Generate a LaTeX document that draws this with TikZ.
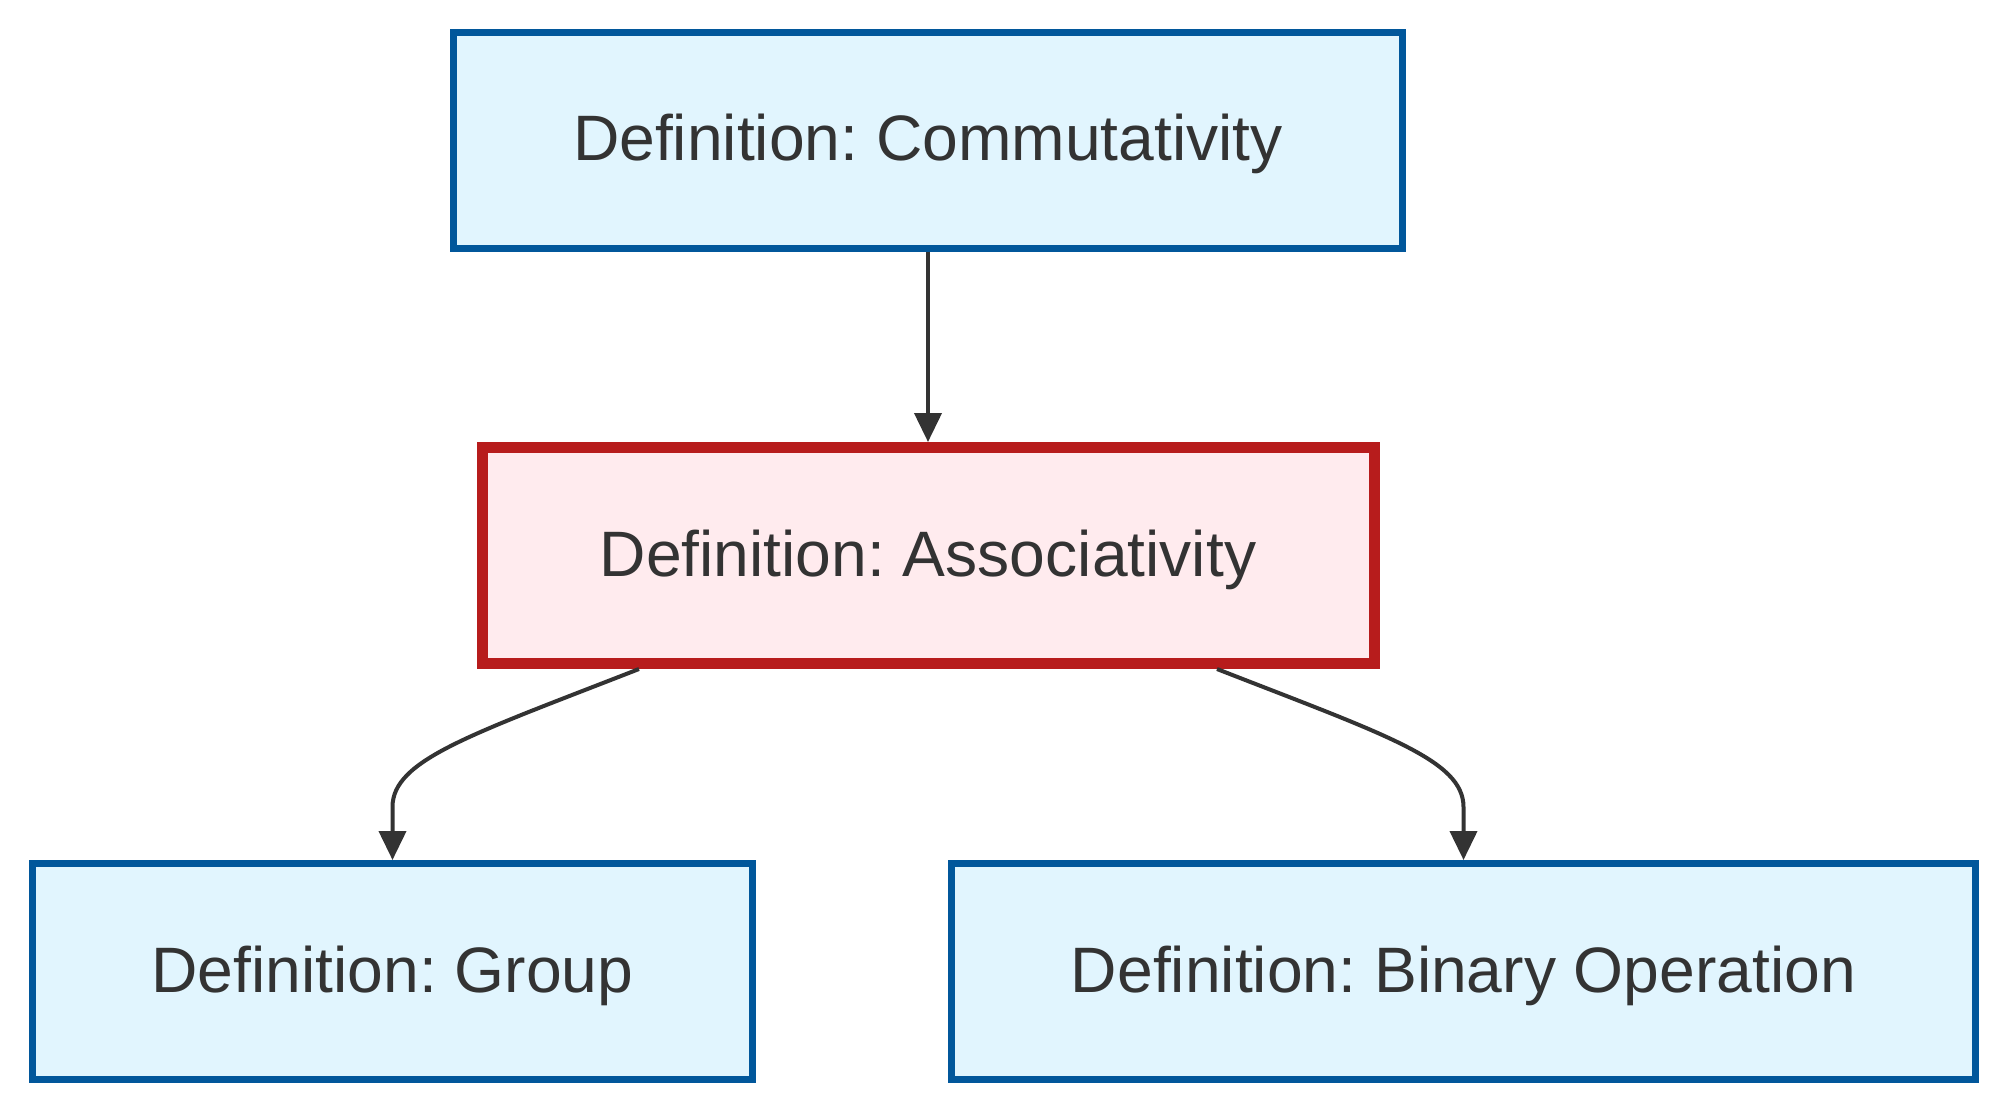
\documentclass[tikz,border=0pt]{standalone}
\usepackage{fontspec}
\setmainfont{Liberation Sans}
\usetikzlibrary{arrows.meta}
\definecolor{bluefill}{HTML}{E1F5FE}
\definecolor{bluedraw}{HTML}{01579B}
\definecolor{redfill}{HTML}{FFEBEE}
\definecolor{reddraw}{HTML}{B71C1C}
\definecolor{txt}{HTML}{333333}
\frenchspacing
\begin{document}
\begin{tikzpicture}[x=1pt,y=-1pt,
  defbox/.style={rectangle, draw=bluedraw, fill=bluefill, line width=7pt,
    minimum height=216pt, text=txt, inner sep=0pt,
    text height=46pt, text depth=5pt,
    font=\fontsize{64.2}{76}\selectfont},
  mainbox/.style={defbox, draw=reddraw, fill=redfill, line width=11pt},
  edge/.style={draw=txt, line width=4pt, -{Triangle[length=29pt,width=27pt]}}
]
\useasboundingbox[fill=white] (0,0) rectangle (2004,1112);
\node[defbox, minimum width=949pt] (comm) at (928,140) {Definition: Commutativity};
\node[mainbox, minimum width=892pt] (assoc) at (928,555.5) {Definition: Associativity};
\node[defbox, minimum width=720pt] (group) at (392.5,971.5) {Definition: Group};
\node[defbox, minimum width=1024pt] (binop) at (1463.5,971.5) {Definition: Binary Operation};
\draw[edge] (comm.south) -- (assoc.north);
\draw[edge] ([xshift=-289pt]assoc.south) .. controls (470,735) and (392.5,760) .. ([yshift=53pt]group.north) -- (group.north);
\draw[edge] ([xshift=289pt]assoc.south) .. controls (1386,735) and (1463.5,760) .. ([yshift=53pt]binop.north) -- (binop.north);
\end{tikzpicture}
\end{document}
